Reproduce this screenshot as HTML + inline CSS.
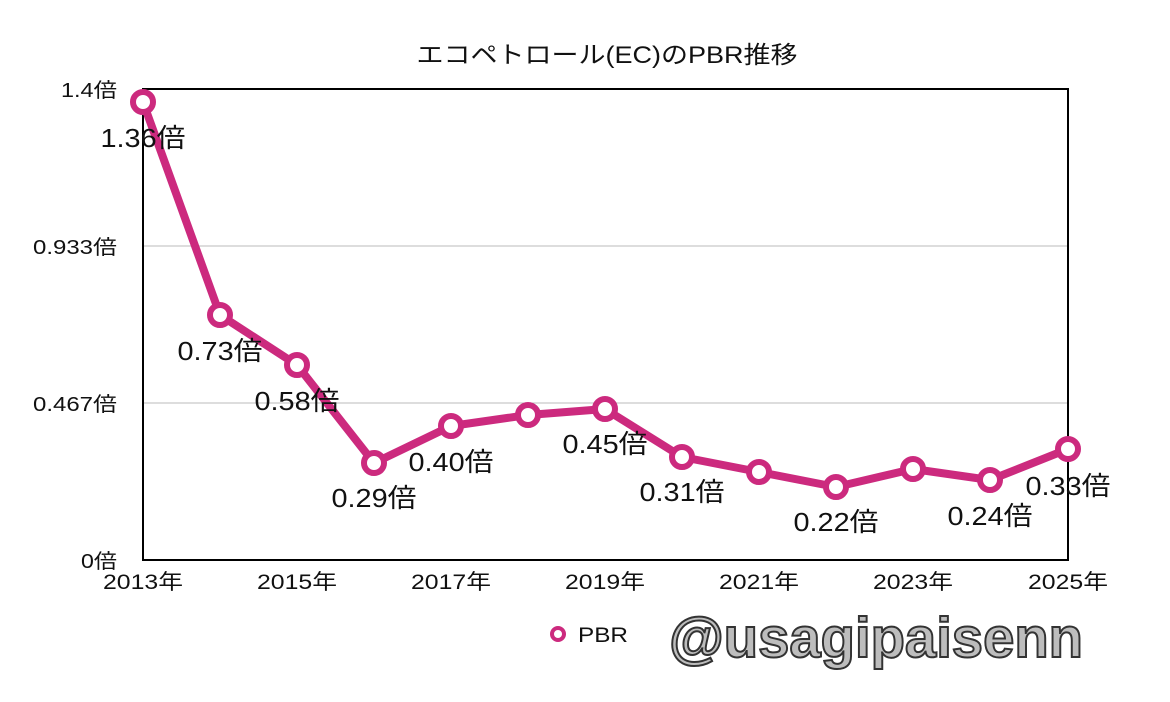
<!DOCTYPE html>
<html><head><meta charset="utf-8"><style>
html,body{margin:0;padding:0;background:#fff;}
svg text{font-family:"Liberation Sans","Noto Sans CJK JP",sans-serif;}
</style></head><body>
<svg width="1170" height="697" viewBox="0 0 1170 697" xmlns="http://www.w3.org/2000/svg">
<rect width="1170" height="697" fill="#fff"/>
<text x="607" y="63" font-size="24" text-anchor="middle" fill="#111" textLength="381" lengthAdjust="spacingAndGlyphs">エコペトロール(EC)のPBR推移</text>
<line x1="143" y1="246" x2="1068" y2="246" stroke="#bbb" stroke-width="1"/>
<line x1="143" y1="403" x2="1068" y2="403" stroke="#bbb" stroke-width="1"/>
<rect x="143" y="89" width="925" height="471" fill="none" stroke="#000" stroke-width="2"/>
<g font-size="20" fill="#111" text-anchor="end" lengthAdjust="spacingAndGlyphs">
<text x="117" y="97" textLength="56" lengthAdjust="spacingAndGlyphs">1.4倍</text>
<text x="117" y="254" textLength="84" lengthAdjust="spacingAndGlyphs">0.933倍</text>
<text x="117" y="411" textLength="84" lengthAdjust="spacingAndGlyphs">0.467倍</text>
<text x="117" y="568" textLength="36" lengthAdjust="spacingAndGlyphs">0倍</text>
</g>
<g font-size="21" fill="#111" text-anchor="middle">
<text x="143" y="589" textLength="80" lengthAdjust="spacingAndGlyphs">2013年</text>
<text x="297" y="589" textLength="80" lengthAdjust="spacingAndGlyphs">2015年</text>
<text x="451" y="589" textLength="80" lengthAdjust="spacingAndGlyphs">2017年</text>
<text x="605" y="589" textLength="80" lengthAdjust="spacingAndGlyphs">2019年</text>
<text x="759" y="589" textLength="80" lengthAdjust="spacingAndGlyphs">2021年</text>
<text x="913" y="589" textLength="80" lengthAdjust="spacingAndGlyphs">2023年</text>
<text x="1068" y="589" textLength="80" lengthAdjust="spacingAndGlyphs">2025年</text>
</g>
<polyline fill="none" stroke="#cc2a7e" stroke-width="8" stroke-linejoin="round" points="143,102 220,315 297,365 374,463 451,426 528,415 605,409 682,457 759,472 836,487 913,469 990,480 1068,449"/>
<g fill="#fff" stroke="#cc2a7e" stroke-width="6">
<circle cx="143" cy="102" r="10"/><circle cx="220" cy="315" r="10"/><circle cx="297" cy="365" r="10"/><circle cx="374" cy="463" r="10"/><circle cx="451" cy="426" r="10"/><circle cx="528" cy="415" r="10"/><circle cx="605" cy="409" r="10"/><circle cx="682" cy="457" r="10"/><circle cx="759" cy="472" r="10"/><circle cx="836" cy="487" r="10"/><circle cx="913" cy="469" r="10"/><circle cx="990" cy="480" r="10"/><circle cx="1068" cy="449" r="10"/>
</g>
<g font-size="26" fill="#111" text-anchor="middle">
<text x="143" y="147" textLength="85" lengthAdjust="spacingAndGlyphs">1.36倍</text>
<text x="220" y="360" textLength="85" lengthAdjust="spacingAndGlyphs">0.73倍</text>
<text x="297" y="410" textLength="85" lengthAdjust="spacingAndGlyphs">0.58倍</text>
<text x="374" y="507" textLength="85" lengthAdjust="spacingAndGlyphs">0.29倍</text>
<text x="451" y="471" textLength="85" lengthAdjust="spacingAndGlyphs">0.40倍</text>
<text x="605" y="453" textLength="85" lengthAdjust="spacingAndGlyphs">0.45倍</text>
<text x="682" y="501" textLength="85" lengthAdjust="spacingAndGlyphs">0.31倍</text>
<text x="836" y="531" textLength="85" lengthAdjust="spacingAndGlyphs">0.22倍</text>
<text x="990" y="525" textLength="85" lengthAdjust="spacingAndGlyphs">0.24倍</text>
<text x="1068" y="495" textLength="85" lengthAdjust="spacingAndGlyphs">0.33倍</text>
</g>
<circle cx="558" cy="634" r="6" fill="#fff" stroke="#cc2a7e" stroke-width="4"/>
<text x="578" y="642" font-size="21" fill="#111" textLength="50" lengthAdjust="spacingAndGlyphs">PBR</text>
<text x="876" y="657" font-size="57" font-weight="bold" text-anchor="middle" fill="#bdbdbd" stroke="#333" stroke-width="2" textLength="414" lengthAdjust="spacingAndGlyphs">@usagipaisenn</text>
</svg>
</body></html>
